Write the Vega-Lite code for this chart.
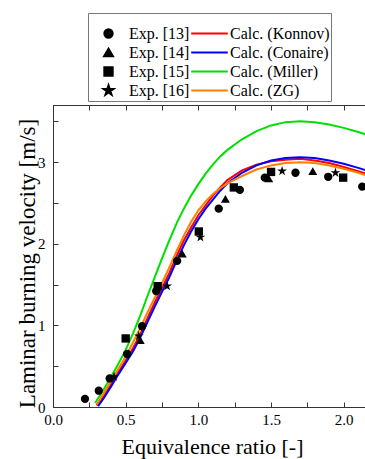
{
  "$schema": "https://vega.github.io/schema/vega-lite/v6.json",
  "width": 314,
  "height": 302,
  "autosize": {"type": "none"},
  "padding": {"left": 53, "top": 105, "right": 0, "bottom": 52},
  "background": "white",
  "config": {
    "view": {"stroke": "#333", "strokeWidth": 1},
    "font": "Liberation Serif",
    "axis": {
      "grid": false,
      "domainColor": "#333",
      "tickColor": "#333",
      "labelColor": "#000",
      "titleColor": "#000",
      "labelFont": "Liberation Serif",
      "titleFont": "Liberation Serif",
      "labelFontSize": 15,
      "titleFontWeight": "normal",
      "labelOverlap": false,
      "labelFlush": false
    },
    "legend": {
      "labelFont": "Liberation Serif",
      "labelFontSize": 16,
      "labelColor": "#000",
      "symbolStrokeWidth": 2,
      "strokeColor": "#777",
      "fillColor": "white"
    }
  },
  "datasets": {
    "exp": [
      {"phi": 0.22, "v": 0.10, "s": "Exp. [13]"},
      {"phi": 0.315, "v": 0.20, "s": "Exp. [13]"},
      {"phi": 0.39, "v": 0.35, "s": "Exp. [13]"},
      {"phi": 0.51, "v": 0.65, "s": "Exp. [13]"},
      {"phi": 0.613, "v": 0.99, "s": "Exp. [13]"},
      {"phi": 0.71, "v": 1.42, "s": "Exp. [13]"},
      {"phi": 0.854, "v": 1.79, "s": "Exp. [13]"},
      {"phi": 1.14, "v": 2.43, "s": "Exp. [13]"},
      {"phi": 1.285, "v": 2.66, "s": "Exp. [13]"},
      {"phi": 1.457, "v": 2.81, "s": "Exp. [13]"},
      {"phi": 1.668, "v": 2.87, "s": "Exp. [13]"},
      {"phi": 1.893, "v": 2.82, "s": "Exp. [13]"},
      {"phi": 2.127, "v": 2.70, "s": "Exp. [13]"},
      {"phi": 0.60, "v": 0.82, "s": "Exp. [14]"},
      {"phi": 0.889, "v": 1.88, "s": "Exp. [14]"},
      {"phi": 1.186, "v": 2.55, "s": "Exp. [14]"},
      {"phi": 1.484, "v": 2.80, "s": "Exp. [14]"},
      {"phi": 1.787, "v": 2.89, "s": "Exp. [14]"},
      {"phi": 0.50, "v": 0.84, "s": "Exp. [15]"},
      {"phi": 0.72, "v": 1.48, "s": "Exp. [15]"},
      {"phi": 1.003, "v": 2.15, "s": "Exp. [15]"},
      {"phi": 1.244, "v": 2.69, "s": "Exp. [15]"},
      {"phi": 1.50, "v": 2.88, "s": "Exp. [15]"},
      {"phi": 1.996, "v": 2.81, "s": "Exp. [15]"},
      {"phi": 0.42, "v": 0.37, "s": "Exp. [16]"},
      {"phi": 0.59, "v": 0.87, "s": "Exp. [16]"},
      {"phi": 0.785, "v": 1.48, "s": "Exp. [16]"},
      {"phi": 1.014, "v": 2.08, "s": "Exp. [16]"},
      {"phi": 1.576, "v": 2.89, "s": "Exp. [16]"},
      {"phi": 1.943, "v": 2.87, "s": "Exp. [16]"}
    ],
    "calc": [
      {"phi": 0.30, "v": 0.02, "s": "Calc. (Konnov)"},
      {"phi": 0.35, "v": 0.14, "s": "Calc. (Konnov)"},
      {"phi": 0.40, "v": 0.28, "s": "Calc. (Konnov)"},
      {"phi": 0.45, "v": 0.43, "s": "Calc. (Konnov)"},
      {"phi": 0.50, "v": 0.57, "s": "Calc. (Konnov)"},
      {"phi": 0.55, "v": 0.72, "s": "Calc. (Konnov)"},
      {"phi": 0.60, "v": 0.89, "s": "Calc. (Konnov)"},
      {"phi": 0.65, "v": 1.09, "s": "Calc. (Konnov)"},
      {"phi": 0.70, "v": 1.28, "s": "Calc. (Konnov)"},
      {"phi": 0.75, "v": 1.46, "s": "Calc. (Konnov)"},
      {"phi": 0.80, "v": 1.64, "s": "Calc. (Konnov)"},
      {"phi": 0.85, "v": 1.85, "s": "Calc. (Konnov)"},
      {"phi": 0.90, "v": 2.04, "s": "Calc. (Konnov)"},
      {"phi": 0.95, "v": 2.20, "s": "Calc. (Konnov)"},
      {"phi": 1.00, "v": 2.35, "s": "Calc. (Konnov)"},
      {"phi": 1.05, "v": 2.47, "s": "Calc. (Konnov)"},
      {"phi": 1.10, "v": 2.59, "s": "Calc. (Konnov)"},
      {"phi": 1.15, "v": 2.69, "s": "Calc. (Konnov)"},
      {"phi": 1.20, "v": 2.78, "s": "Calc. (Konnov)"},
      {"phi": 1.30, "v": 2.90, "s": "Calc. (Konnov)"},
      {"phi": 1.40, "v": 2.97, "s": "Calc. (Konnov)"},
      {"phi": 1.50, "v": 3.01, "s": "Calc. (Konnov)"},
      {"phi": 1.60, "v": 3.03, "s": "Calc. (Konnov)"},
      {"phi": 1.70, "v": 3.04, "s": "Calc. (Konnov)"},
      {"phi": 1.80, "v": 3.02, "s": "Calc. (Konnov)"},
      {"phi": 1.90, "v": 2.99, "s": "Calc. (Konnov)"},
      {"phi": 2.00, "v": 2.94, "s": "Calc. (Konnov)"},
      {"phi": 2.10, "v": 2.89, "s": "Calc. (Konnov)"},
      {"phi": 2.16, "v": 2.855, "s": "Calc. (Konnov)"},
      {"phi": 0.31, "v": 0.01, "s": "Calc. (Conaire)"},
      {"phi": 0.35, "v": 0.11, "s": "Calc. (Conaire)"},
      {"phi": 0.40, "v": 0.25, "s": "Calc. (Conaire)"},
      {"phi": 0.45, "v": 0.40, "s": "Calc. (Conaire)"},
      {"phi": 0.50, "v": 0.54, "s": "Calc. (Conaire)"},
      {"phi": 0.55, "v": 0.68, "s": "Calc. (Conaire)"},
      {"phi": 0.60, "v": 0.85, "s": "Calc. (Conaire)"},
      {"phi": 0.65, "v": 1.04, "s": "Calc. (Conaire)"},
      {"phi": 0.70, "v": 1.23, "s": "Calc. (Conaire)"},
      {"phi": 0.75, "v": 1.41, "s": "Calc. (Conaire)"},
      {"phi": 0.80, "v": 1.59, "s": "Calc. (Conaire)"},
      {"phi": 0.85, "v": 1.79, "s": "Calc. (Conaire)"},
      {"phi": 0.90, "v": 1.98, "s": "Calc. (Conaire)"},
      {"phi": 0.95, "v": 2.15, "s": "Calc. (Conaire)"},
      {"phi": 1.00, "v": 2.30, "s": "Calc. (Conaire)"},
      {"phi": 1.05, "v": 2.43, "s": "Calc. (Conaire)"},
      {"phi": 1.10, "v": 2.54, "s": "Calc. (Conaire)"},
      {"phi": 1.15, "v": 2.65, "s": "Calc. (Conaire)"},
      {"phi": 1.20, "v": 2.74, "s": "Calc. (Conaire)"},
      {"phi": 1.30, "v": 2.87, "s": "Calc. (Conaire)"},
      {"phi": 1.40, "v": 2.96, "s": "Calc. (Conaire)"},
      {"phi": 1.50, "v": 3.02, "s": "Calc. (Conaire)"},
      {"phi": 1.60, "v": 3.05, "s": "Calc. (Conaire)"},
      {"phi": 1.70, "v": 3.06, "s": "Calc. (Conaire)"},
      {"phi": 1.80, "v": 3.05, "s": "Calc. (Conaire)"},
      {"phi": 1.90, "v": 3.02, "s": "Calc. (Conaire)"},
      {"phi": 2.00, "v": 2.98, "s": "Calc. (Conaire)"},
      {"phi": 2.10, "v": 2.93, "s": "Calc. (Conaire)"},
      {"phi": 2.16, "v": 2.895, "s": "Calc. (Conaire)"},
      {"phi": 0.29, "v": 0.05, "s": "Calc. (Miller)"},
      {"phi": 0.35, "v": 0.22, "s": "Calc. (Miller)"},
      {"phi": 0.40, "v": 0.37, "s": "Calc. (Miller)"},
      {"phi": 0.45, "v": 0.53, "s": "Calc. (Miller)"},
      {"phi": 0.50, "v": 0.70, "s": "Calc. (Miller)"},
      {"phi": 0.55, "v": 0.90, "s": "Calc. (Miller)"},
      {"phi": 0.60, "v": 1.12, "s": "Calc. (Miller)"},
      {"phi": 0.65, "v": 1.36, "s": "Calc. (Miller)"},
      {"phi": 0.70, "v": 1.59, "s": "Calc. (Miller)"},
      {"phi": 0.75, "v": 1.82, "s": "Calc. (Miller)"},
      {"phi": 0.80, "v": 2.04, "s": "Calc. (Miller)"},
      {"phi": 0.85, "v": 2.25, "s": "Calc. (Miller)"},
      {"phi": 0.90, "v": 2.43, "s": "Calc. (Miller)"},
      {"phi": 0.95, "v": 2.59, "s": "Calc. (Miller)"},
      {"phi": 1.00, "v": 2.73, "s": "Calc. (Miller)"},
      {"phi": 1.05, "v": 2.86, "s": "Calc. (Miller)"},
      {"phi": 1.10, "v": 2.97, "s": "Calc. (Miller)"},
      {"phi": 1.15, "v": 3.07, "s": "Calc. (Miller)"},
      {"phi": 1.20, "v": 3.15, "s": "Calc. (Miller)"},
      {"phi": 1.30, "v": 3.28, "s": "Calc. (Miller)"},
      {"phi": 1.40, "v": 3.38, "s": "Calc. (Miller)"},
      {"phi": 1.50, "v": 3.45, "s": "Calc. (Miller)"},
      {"phi": 1.60, "v": 3.49, "s": "Calc. (Miller)"},
      {"phi": 1.70, "v": 3.50, "s": "Calc. (Miller)"},
      {"phi": 1.80, "v": 3.49, "s": "Calc. (Miller)"},
      {"phi": 1.90, "v": 3.46, "s": "Calc. (Miller)"},
      {"phi": 2.00, "v": 3.42, "s": "Calc. (Miller)"},
      {"phi": 2.10, "v": 3.37, "s": "Calc. (Miller)"},
      {"phi": 2.16, "v": 3.335, "s": "Calc. (Miller)"},
      {"phi": 0.30, "v": 0.03, "s": "Calc. (ZG)"},
      {"phi": 0.35, "v": 0.17, "s": "Calc. (ZG)"},
      {"phi": 0.40, "v": 0.32, "s": "Calc. (ZG)"},
      {"phi": 0.45, "v": 0.47, "s": "Calc. (ZG)"},
      {"phi": 0.50, "v": 0.62, "s": "Calc. (ZG)"},
      {"phi": 0.55, "v": 0.79, "s": "Calc. (ZG)"},
      {"phi": 0.60, "v": 0.97, "s": "Calc. (ZG)"},
      {"phi": 0.65, "v": 1.16, "s": "Calc. (ZG)"},
      {"phi": 0.70, "v": 1.34, "s": "Calc. (ZG)"},
      {"phi": 0.75, "v": 1.52, "s": "Calc. (ZG)"},
      {"phi": 0.80, "v": 1.71, "s": "Calc. (ZG)"},
      {"phi": 0.85, "v": 1.91, "s": "Calc. (ZG)"},
      {"phi": 0.90, "v": 2.10, "s": "Calc. (ZG)"},
      {"phi": 0.95, "v": 2.27, "s": "Calc. (ZG)"},
      {"phi": 1.00, "v": 2.41, "s": "Calc. (ZG)"},
      {"phi": 1.05, "v": 2.52, "s": "Calc. (ZG)"},
      {"phi": 1.10, "v": 2.61, "s": "Calc. (ZG)"},
      {"phi": 1.15, "v": 2.68, "s": "Calc. (ZG)"},
      {"phi": 1.20, "v": 2.74, "s": "Calc. (ZG)"},
      {"phi": 1.30, "v": 2.83, "s": "Calc. (ZG)"},
      {"phi": 1.40, "v": 2.91, "s": "Calc. (ZG)"},
      {"phi": 1.50, "v": 2.96, "s": "Calc. (ZG)"},
      {"phi": 1.60, "v": 2.99, "s": "Calc. (ZG)"},
      {"phi": 1.70, "v": 3.00, "s": "Calc. (ZG)"},
      {"phi": 1.80, "v": 2.99, "s": "Calc. (ZG)"},
      {"phi": 1.90, "v": 2.96, "s": "Calc. (ZG)"},
      {"phi": 2.00, "v": 2.92, "s": "Calc. (ZG)"},
      {"phi": 2.10, "v": 2.87, "s": "Calc. (ZG)"},
      {"phi": 2.16, "v": 2.835, "s": "Calc. (ZG)"}
    ]
  },
  "layer": [
    {
      "data": {"name": "calc"},
      "mark": {"type": "line", "strokeWidth": 2, "clip": true},
      "encoding": {
        "x": {
          "field": "phi", "type": "quantitative",
          "scale": {"domain": [0, 2.16], "nice": false, "zero": false},
          "axis": {
            "orient": "bottom",
            "values": [0, 0.25, 0.5, 0.75, 1.0, 1.25, 1.5, 1.75, 2.0],
            "labelExpr": "datum.value % 0.5 === 0 ? format(datum.value, '.1f') : ''",
            "tickSize": -5,
            "labelPadding": 10,
            "title": "Equivalence ratio [-]",
            "titleFontSize": 22,
            "titleX": 159, "titleY": 46,
            "titleBaseline": "alphabetic"
          }
        },
        "y": {
          "field": "v", "type": "quantitative",
          "scale": {"domain": [0, 3.7], "nice": false, "zero": false},
          "axis": {
            "orient": "left",
            "values": [0, 0.5, 1, 1.5, 2, 2.5, 3, 3.5],
            "labelExpr": "datum.value % 1 === 0 ? format(datum.value, 'd') : ''",
            "tickSize": -5,
            "labelPadding": 13,
            "title": "Laminar burning velocity [m/s]",
            "titleFontSize": 23,
            "titleX": -19, "titleY": 158,
            "titleAngle": -90,
            "titleBaseline": "alphabetic",
            "titleAlign": "center"
          }
        },
        "color": {
          "field": "s", "type": "nominal",
          "scale": {
            "domain": ["Exp. [13]", "Exp. [14]", "Exp. [15]", "Exp. [16]", "Calc. (Konnov)", "Calc. (Conaire)", "Calc. (Miller)", "Calc. (ZG)"],
            "range": ["#000000", "#000000", "#000000", "#000000", "#ff0000", "#0000ff", "#00e000", "#ff8000"]
          },
          "legend": {
            "title": " ", "titleFontSize": 8, "titlePadding": 2,
            "orient": "none", "legendX": 35, "legendY": -92,
            "columns": 2, "columnPadding": 0, "rowPadding": 0, "clipHeight": 19,
            "labelOffset": 1, "padding": 1, "strokeColor": "#777", "fillColor": "white"
          }
        }
      }
    },
    {
      "data": {"name": "exp"},
      "mark": {"type": "point", "filled": true, "opacity": 1},
      "encoding": {
        "x": {
          "field": "phi", "type": "quantitative",
          "scale": {"domain": [0, 2.16], "nice": false, "zero": false},
          "axis": {
            "orient": "top", "title": null, "labels": false,
            "values": [0, 0.25, 0.5, 0.75, 1.0, 1.25, 1.5, 1.75, 2.0],
            "tickSize": -5
          }
        },
        "y": {"field": "v", "type": "quantitative"},
        "color": {
          "field": "s", "type": "nominal",
          "legend": {
            "title": " ", "titleFontSize": 8, "titlePadding": 2,
            "orient": "none", "legendX": 35, "legendY": -92,
            "columns": 2, "columnPadding": 0, "rowPadding": 0, "clipHeight": 19,
            "labelOffset": 1, "padding": 1, "strokeColor": "#777", "fillColor": "white"
          }
        },
        "shape": {
          "field": "s", "type": "nominal",
          "scale": {
            "domain": ["Exp. [13]", "Exp. [14]", "Exp. [15]", "Exp. [16]", "Calc. (Konnov)", "Calc. (Conaire)", "Calc. (Miller)", "Calc. (ZG)"],
            "range": ["circle", "triangle-up", "square", "M0,-1.15L0.259,-0.355L1.094,-0.355L0.417,0.136L0.676,0.93L0,0.439L-0.676,0.93L-0.417,0.136L-1.094,-0.355L-0.259,-0.355Z", "stroke", "stroke", "stroke", "stroke"]
          },
          "legend": {
            "title": " ", "titleFontSize": 8, "titlePadding": 2,
            "orient": "none", "legendX": 35, "legendY": -92,
            "columns": 2, "columnPadding": 0, "rowPadding": 0, "clipHeight": 19,
            "labelOffset": 1, "padding": 1, "strokeColor": "#777", "fillColor": "white"
          }
        },
        "size": {
          "field": "s", "type": "nominal",
          "scale": {
            "type": "ordinal",
            "domain": ["Exp. [13]", "Exp. [14]", "Exp. [15]", "Exp. [16]", "Calc. (Konnov)", "Calc. (Conaire)", "Calc. (Miller)", "Calc. (ZG)"],
            "range": [70, 80, 70, 80, 1340, 1340, 1340, 1340]
          },
          "legend": {
            "title": " ", "titleFontSize": 8, "titlePadding": 2,
            "orient": "none", "legendX": 35, "legendY": -92,
            "columns": 2, "columnPadding": 0, "rowPadding": 0, "clipHeight": 19,
            "labelOffset": 1, "padding": 1, "strokeColor": "#777", "fillColor": "white",
            "encode": {
              "legend": {
                "update": {
                  "stroke": {"value": "#777"},
                  "strokeWidth": {"value": 1},
                  "fill": {"value": "white"}
                }
              },
              "symbols": {
                "update": {
                  "fill": {"scale": "color", "field": "value"},
                  "stroke": {"scale": "color", "field": "value"},
                  "opacity": {"value": 1}
                }
              }
            }
          }
        }
      }
    }
  ],
  "resolve": {"scale": {"x": "independent"}}
}
